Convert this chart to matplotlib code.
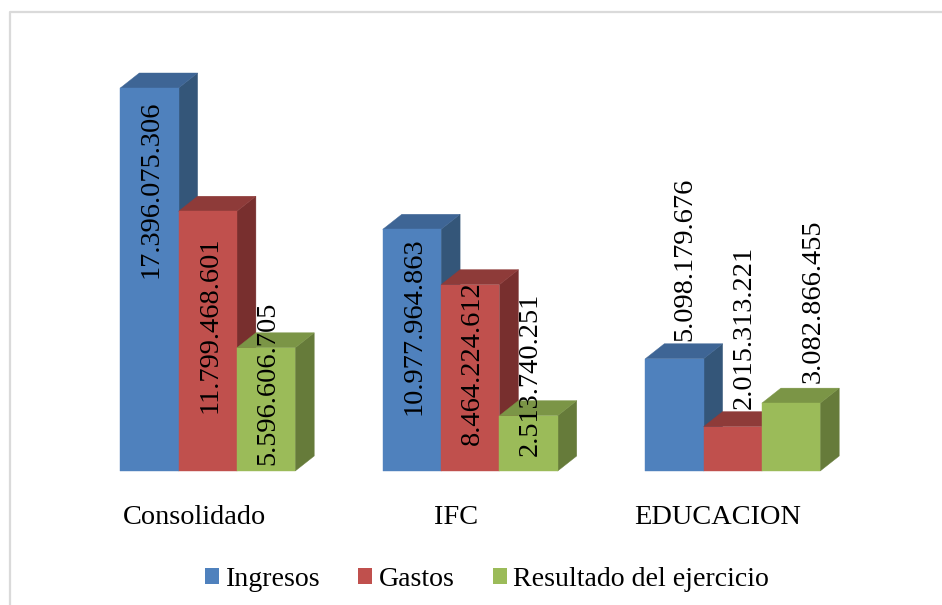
import matplotlib.pyplot as plt
from matplotlib.lines import Line2D
from matplotlib.patches import Patch, Polygon

plt.rcParams['font.family'] = ['Liberation Serif', 'DejaVu Serif']

# datos
categories = ['Consolidado', 'IFC', 'EDUCACION']
series_names = ['Ingresos', 'Gastos', 'Resultado del ejercicio']
ingresos = [17396075306, 10977964863, 5098179676]
gastos = [11799468601, 8464224612, 2015313221]
resultado = [5596606705, 2513740251, 3082866455]
series = [ingresos, gastos, resultado]

front = ['#4F81BD', '#C0504D', '#9BBB59']
top = ['#3E6595', '#8E3B39', '#7B9546']
side = ['#345679', '#782F2E', '#667B3A']

# desplazamiento de etiquetas en pixeles (x, y) desde el centro superior de la barra
label_off = [
    [(2, -101), (2, -114), (2, -36)],
    [(2, -97), (2, -78), (2, 41)],
    [(10, 99), (11, 99), (22, 102)],
]

W, H = 942, 605
base_px = 471
first_px = 207.75
group_px = 262.5
bar_px = 58.3
depth_x = 19
depth_y = 15
px_per_val = 383 / 17396075306

fig = plt.figure(figsize=(9.42, 6.05), dpi=100)
ax = fig.add_axes([0, 0, 1, 1])
ax.set_xlim(-first_px / group_px, (W - first_px) / group_px)
ax.set_ylim(-(H - base_px) / px_per_val, base_px / px_per_val)
ax.axis('off')

bw = bar_px / group_px
dx = depth_x / group_px
dy = depth_y / px_per_val

for g in range(len(categories)):
    for s in range(len(series)):
        v = series[s][g]
        x0 = g + (s - 1.5) * bw
        x1 = x0 + bw
        ax.add_patch(Polygon([(x1, 0), (x1 + dx, dy), (x1 + dx, v + dy), (x1, v)],
                             facecolor=side[s], edgecolor=side[s], lw=0.3))
        ax.add_patch(Polygon([(x0, v), (x1, v), (x1 + dx, v + dy), (x0 + dx, v + dy)],
                             facecolor=top[s], edgecolor=top[s], lw=0.3))
        ax.add_patch(Polygon([(x0, 0), (x1, 0), (x1, v), (x0, v)],
                             facecolor=front[s], edgecolor=front[s], lw=0.3))

for g in range(len(categories)):
    for s in range(len(series)):
        v = series[s][g]
        x_mid = g + (s - 1) * bw
        txt = f'{v:,}'.replace(',', '.')
        ax.annotate(txt, xy=(x_mid, v), xytext=label_off[g][s], textcoords='offset pixels',
                    rotation=90, ha='center', va='center', fontsize=20.4, color='black', zorder=5)

# categorias
cat_px = [194, 456, 718]
for name, px in zip(categories, cat_px):
    ax.text((px - first_px) / group_px, -(517 - base_px) / px_per_val, name,
            ha='center', va='center', fontsize=20.4, color='black')

# leyenda
handles = [Patch(facecolor=c, edgecolor=c, lw=0, label=n) for c, n in zip(front, series_names)]
fig.legend(handles=handles, loc='center', bbox_to_anchor=(487 / W, 1 - 579 / H), ncol=3,
           frameon=False, fontsize=20.1, handlelength=0.5, handleheight=0.5,
           handletextpad=0.22, columnspacing=1.37, borderpad=0, borderaxespad=0)

# borde
fig.add_artist(Line2D([10 / W, 10 / W, 1], [0, 1 - 12 / H, 1 - 12 / H],
                      color='#DADADA', lw=1.6, transform=fig.transFigure))

fig.savefig('out.png', dpi=100)
